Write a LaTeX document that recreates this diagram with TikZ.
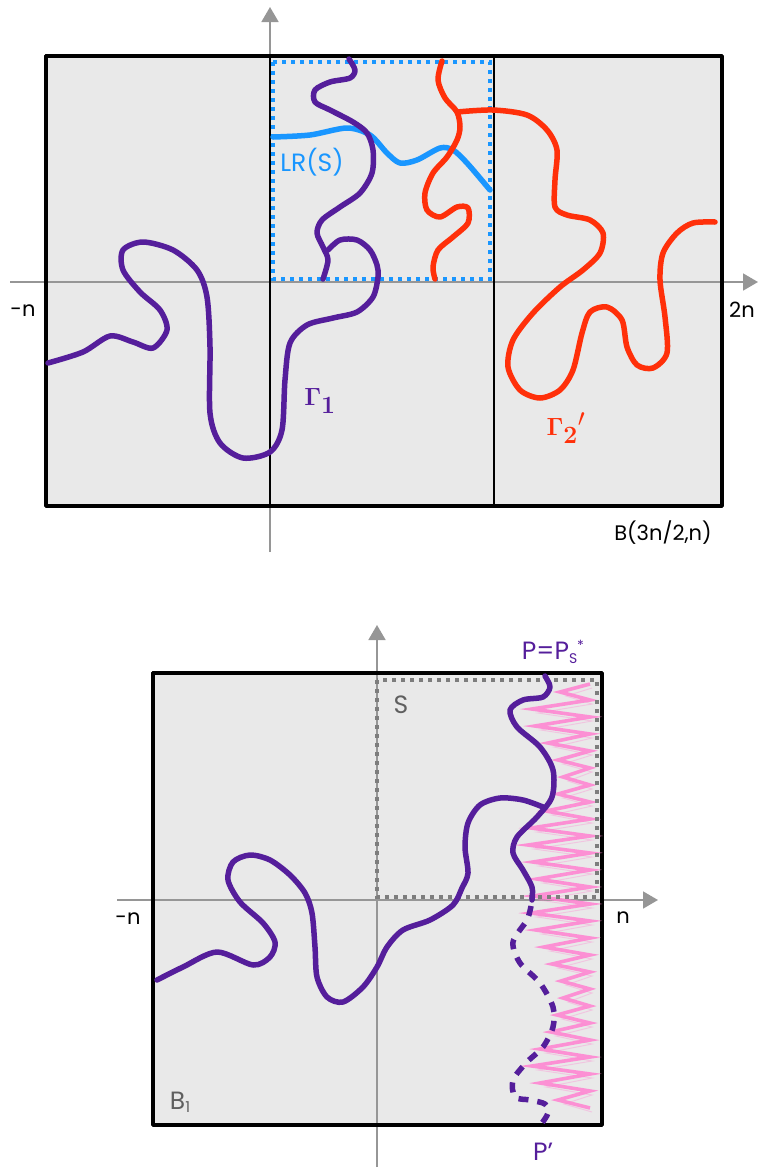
\documentclass[tikz,border=0pt]{standalone}
\usepackage[no-math]{fontspec}
\setmainfont{Poppins}
\usetikzlibrary{arrows.meta}
\definecolor{boxfill}{RGB}{233,233,233}
\definecolor{axisgray}{RGB}{150,150,150}
\definecolor{dotgray}{RGB}{125,125,125}
\definecolor{gpurple}{RGB}{85,30,155}
\definecolor{gred}{RGB}{255,48,10}
\definecolor{gblue}{RGB}{25,150,255}
\definecolor{gpink}{RGB}{255,135,210}
\definecolor{lblgray}{RGB}{95,95,95}
\begin{document}
\begin{tikzpicture}[x=1pt,y=-1pt,
  panel/.style={fill=boxfill, draw=black, line width=3.5pt, line join=round},
  divider/.style={draw=black, line width=2pt},
  axisline/.style={draw=axisgray, line width=1.8pt, -{Triangle[length=15pt,width=17pt,fill=axisgray]}},
  dotbox/.style={line width=4pt, dash pattern=on 4pt off 5pt},
  curve/.style={line width=5.5pt, line cap=round, line join=round},
  zig/.style={draw=gpink, line width=3.6pt, line join=miter, opacity=0.9},
  lbl/.style={font=\fontsize{21}{24}\selectfont, inner sep=0pt},
  biglbl/.style={font=\fontsize{25}{28}\selectfont, inner sep=0pt},
  gam/.style={font=\fontsize{34}{38}\selectfont, inner sep=0pt}]
\useasboundingbox (0,0) rectangle (759,1171);

%================ TOP PANEL ================
\path[panel] (46,56) rectangle (722,506);
\draw[axisline] (10,282) -- (758,282);
\draw[axisline] (270,552) -- (270,7);
\draw[divider] (270,56) -- (270,506);
\draw[divider] (494,56) -- (494,506);
\draw[draw=black, line width=3.5pt, line join=round] (46,56) rectangle (722,506);
\draw[dotbox, gblue] (273,62) rectangle (490,279);

% LR(S) curve
\draw[curve, gblue] plot[smooth] coordinates {(273,137) (310,135) (347,128) (370,135) (387,153) (400,163) (417,160) (440,148) (453,150) (467,163) (490,190)};

% Gamma_1
\draw[curve, gpurple] plot[smooth] coordinates {(48,363) (83,352) (110,336) (133,342) (153,348) (167,330) (160,310) (140,292) (123,270) (123,250) (143,242) (173,250) (197,270) (207,297) (210,347) (210,413) (220,443) (243,458) (270,452) (282,430) (285,380) (290,343) (307,325) (333,318) (357,312) (373,297) (378,277) (377,265) (370,250) (357,240) (340,240) (328,250)};
\draw[curve, gpurple] plot[smooth] coordinates {(349,59) (355,70) (350,78) (330,82) (315,90) (315,102) (330,110) (353,122) (367,133) (373,150) (372,173) (360,193) (340,207) (322,220) (317,233) (323,247) (328,260) (323,279)};

% Gamma_2'
\draw[curve, gred] plot[smooth] coordinates {(442,61) (438,80) (445,98) (457,112) (460,127) (457,140) (447,157) (433,173) (425,193) (427,210) (440,217) (457,207) (468,208) (468,223) (453,237) (438,250) (433,267) (435,279)};
\draw[curve, gred] plot[smooth] coordinates {(457,112) (493,110) (527,115) (547,130) (557,150) (555,180) (555,207) (567,215) (590,220) (603,233) (600,253) (583,270) (560,287) (533,313) (513,340) (508,367) (520,390) (540,398) (560,390) (573,370) (582,333) (590,312) (607,307) (622,320) (627,347) (637,365) (653,368) (667,353) (665,317) (660,280) (663,253) (677,233) (693,223) (715,222)};

\node[lbl] (mn1) at (23,311) {-n};
\node[lbl] (tn1) at (742,310) {2n};
\node[lbl] (bname) at (663,533) {B(3n/2,n)};
\node[biglbl, text=gblue] (lrs) at (312,162) {LR(S)};
\node[gam, text=gpurple] (g1) at (320,401) {$\mathbf{\Gamma_1}$};
\node[gam, text=gred] (g2) at (566,428) {$\mathbf{\Gamma_2}{}'$};

%================ BOTTOM PANEL ================
\path[panel] (153,673) rectangle (602,1125);
\draw[axisline] (117,900) -- (658,900);
\draw[axisline] (377,1167) -- (377,625);
\draw[draw=black, line width=3.5pt, line join=round] (153,673) rectangle (602,1125);

% pink zigzag
\draw[zig] (590,684) \foreach \yy/\ll in {692/560,709/532,726/535,743/548,760/558,777/563,794/558,811/546,828/531,845/528,862/533,879/537,896/533,913/531,930/536,947/544,964/552,981/561,998/563,1015/557,1032/551,1049/540,1066/532,1083/540,1100/558} { -- (\ll,\yy) -- (590,{\yy+8}) };
\draw[zig, line width=1pt, opacity=0.35] (592,688) \foreach \yy/\ll in {696/566,713/538,730/541,747/554,764/563,781/568,798/563,815/552,832/537,849/534,866/539,883/543,900/539,917/537,934/542,951/550,968/558,985/566,1002/568,1019/562,1036/556,1053/546,1070/538,1087/546,1104/564} { -- (\ll,\yy) -- (592,{\yy+8}) };

\draw[dotbox, dotgray] (377,680) rectangle (597,897);

\draw[curve, gpurple] plot[smooth] coordinates {(545,676) (550,687) (543,697) (523,700) (510,710) (517,727) (540,747) (553,770) (552,797) (537,817) (517,837) (513,853) (523,870) (532,887) (532,900)};
\draw[curve, gpurple] plot[smooth] coordinates {(157,980) (183,967) (217,952) (253,965) (270,957) (275,942) (263,923) (240,902) (228,880) (233,862) (250,855) (270,860) (290,875) (305,893) (312,913) (315,947) (317,977) (327,997) (343,1002) (363,987) (377,967) (387,947) (403,930) (430,920) (453,905) (462,888) (468,873) (465,847) (468,823) (480,805) (500,798) (523,800) (543,807)};
\draw[curve, gpurple, line cap=butt, dash pattern=on 10pt off 9pt] plot[smooth] coordinates {(531,906) (527,920) (513,942) (520,963) (540,983) (553,1007) (553,1027) (543,1047) (527,1062) (513,1080) (515,1097) (530,1100) (545,1104) (548,1113) (542,1123)};

\node[lbl] (mn2) at (128,919) {-n};
\node[lbl] (pn2) at (623,918) {n};
\node[biglbl, text=lblgray] (slbl) at (401,705) {S};
\node[biglbl, text=lblgray] (b1) at (180,1102) {B\raisebox{-0.25ex}{\fontsize{15}{17}\selectfont 1}};
\node[biglbl, text=gpurple] (plbl) at (553,652) {P=P\raisebox{-0.3ex}{\fontsize{14}{16}\selectfont S}\raisebox{0.7ex}{\fontsize{14}{16}\selectfont *}};
\node[biglbl, text=gpurple] (pp) at (543,1152) {P'};
\end{tikzpicture}
\end{document}
